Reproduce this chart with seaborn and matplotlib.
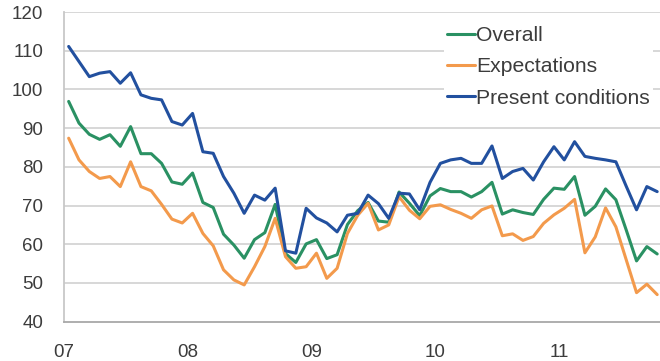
import numpy as np
import pandas as pd
import matplotlib
matplotlib.use("Agg")
import matplotlib.pyplot as plt
import seaborn as sns

# Monthly sentiment indices, Jan 2007 - Oct 2011
start_year = 2007
overall = [96.9, 91.3, 88.4, 87.1, 88.3, 85.3, 90.4, 83.4, 83.4, 80.9, 76.1, 75.5,
           78.4, 70.8, 69.5, 62.6, 59.8, 56.4, 61.2, 63.0, 70.3, 57.6, 55.3, 60.1,
           61.2, 56.3, 57.3, 65.1, 68.7, 70.8, 66.0, 65.7, 73.5, 70.6, 67.4, 72.5,
           74.4, 73.6, 73.6, 72.2, 73.6, 76.0, 67.8, 68.9, 68.2, 67.7, 71.6, 74.5,
           74.2, 77.5, 67.5, 69.8, 74.3, 71.5, 63.7, 55.7, 59.4, 57.5]
expectations = [87.4, 81.8, 78.8, 77.0, 77.5, 74.9, 81.3, 74.9, 73.8, 70.3, 66.5, 65.5,
                68.0, 62.8, 59.6, 53.4, 50.8, 49.5, 54.2, 59.4, 66.7, 56.8, 53.8, 54.2,
                57.7, 51.2, 53.8, 62.8, 67.5, 70.6, 63.7, 65.0, 72.3, 68.8, 66.6, 69.8,
                70.2, 69.0, 68.0, 66.7, 68.9, 69.9, 62.2, 62.7, 61.0, 62.0, 65.4, 67.6,
                69.3, 71.6, 57.8, 61.9, 69.4, 64.5, 56.0, 47.5, 49.7, 47.0]
present = [111.1, 107.2, 103.3, 104.2, 104.6, 101.6, 104.3, 98.6, 97.7, 97.3, 91.7, 90.8,
           93.8, 83.9, 83.5, 77.5, 73.2, 68.0, 72.7, 71.4, 74.5, 58.3, 57.7, 69.3,
           66.8, 65.5, 63.2, 67.5, 68.0, 72.7, 70.5, 66.7, 73.2, 73.0, 68.9, 76.0,
           80.9, 81.8, 82.2, 80.9, 80.9, 85.4, 77.0, 78.8, 79.6, 76.6, 81.3, 85.2,
           81.8, 86.5, 82.7, 82.2, 81.8, 81.3, 75.0, 68.9, 74.9, 73.6]
series_names = ["Overall", "Expectations", "Present conditions"]
year_ticks = [2007, 2008, 2009, 2010, 2011]
year_labels = ["07", "08", "09", "10", "11"]
y_ticks = [40, 50, 60, 70, 80, 90, 100, 110, 120]

colors = {"Overall": "#2a9163", "Expectations": "#f39a4c",
          "Present conditions": "#22509f"}

n = len(overall)
# mid-month positions on a fractional-year axis
t = start_year + (np.arange(n) + 0.5) / 12.0
df = pd.concat([
    pd.DataFrame({"t": t, "value": vals, "series": name})
    for name, vals in zip(series_names, [overall, expectations, present])
], ignore_index=True)

sns.set_theme(style="white")
plt.rcParams["font.family"] = ["Liberation Sans", "DejaVu Sans"]

W, H = 660, 361
fig = plt.figure(figsize=(W / 100, H / 100), dpi=100)
ax = fig.add_axes([63.5 / W, 1 - 321.7 / H, (W - 63.5) / W, (321.7 - 12) / H])

sns.lineplot(data=df, x="t", y="value", hue="series", hue_order=series_names,
             palette=colors, linewidth=2.2, ax=ax, legend=False)

ax.set_xlim(2007, 2007 + (W - 63.5) / 123.9)
ax.set_ylim(40, 120)
ax.set_yticks(y_ticks)
ax.set_xticks(year_ticks)
ax.set_xticklabels(year_labels)
ax.set_xlabel("")
ax.set_ylabel("")

grid_c = "#d4d4d4"
for v in y_ticks[1:]:
    ax.axhline(v, color=grid_c, lw=1.3, zorder=0)
for s in ["top", "right"]:
    ax.spines[s].set_visible(False)
ax.spines["left"].set_color("#c8c8c8")
ax.spines["left"].set_linewidth(1.3)
ax.spines["bottom"].set_color("#a8a8a8")
ax.spines["bottom"].set_linewidth(1.3)

ax.tick_params(axis="y", which="major", length=5, width=1.2, color="#c8c8c8",
               direction="out", labelsize=13.5, labelcolor="#3c3c3c", pad=9.5)
ax.tick_params(axis="x", which="major", length=9, width=1.2, color="#a8a8a8",
               direction="inout", labelsize=13.5, labelcolor="#3c3c3c", pad=11.5)

handles = [plt.Line2D([], [], color=colors[s], lw=2.2) for s in series_names]
leg = fig.legend(handles, series_names, loc="upper left",
                 bbox_to_anchor=(444 / W, 1 - 23 / H), bbox_transform=fig.transFigure,
                 frameon=True, fancybox=False, framealpha=1, edgecolor="none",
                 facecolor="white", fontsize=15.2, handlelength=1.3,
                 handletextpad=0.08, labelspacing=0.58, borderpad=0.15,
                 borderaxespad=0)
for txt in leg.get_texts():
    txt.set_color("#3c3c3c")

fig.savefig("out.png", dpi=100)
